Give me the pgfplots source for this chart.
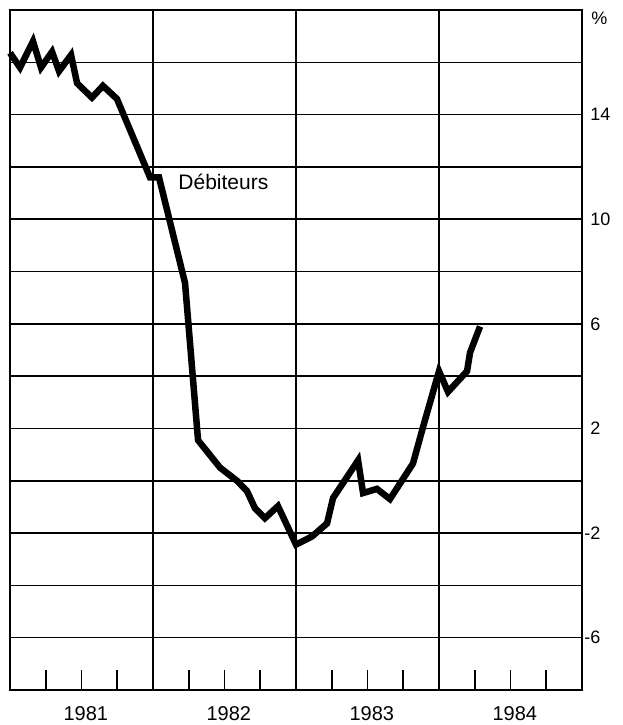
\documentclass[border=0pt]{standalone}
\usepackage{fontspec}
\setmainfont{Liberation Sans}
\usepackage{pgfplots}
\pgfplotsset{compat=1.18}
\begin{document}
\begin{tikzpicture}
\begin{axis}[
  width=286pt, height=340pt, scale only axis,
  xmin=1981, xmax=1985, ymin=-8, ymax=18,
  axis line style={line width=1.4pt},
  xtick={1982,1983,1984}, xticklabels={},
  minor xtick={1981.25,1981.5,1981.75,1982.25,1982.5,1982.75,1983.25,1983.5,1983.75,1984.25,1984.5,1984.75},
  xtick pos=left,
  ytick={-6,-4,...,16},
  yticklabels={\llap{-}6,,\llap{-}2,,2,,6,,10,,14,},
  ytick pos=right, yticklabel pos=right,
  tick align=inside,
  major tick length=0pt, minor tick length=10pt,
  minor tick style={line width=0.8pt, black},
  grid=major,
  major grid style={line width=0.75pt, black},
  yticklabel style={font=\fontsize{9}{10}\selectfont, anchor=west, inner sep=0pt, xshift=4pt},
  extra x ticks={1981.53,1982.53,1983.53,1984.53},
  extra x tick labels={1981,1982,1983,1984},
  extra x tick style={grid=none, major tick length=0pt,
    xticklabel style={font=\fontsize{10}{11}\selectfont, anchor=north, inner sep=0pt, yshift=-8.2pt}},
  clip=false,
]
\addplot[black, line width=3.25pt] coordinates {
(1981.000,16.36)
(1981.070,15.8)
(1981.161,16.8)
(1981.217,15.8)
(1981.294,16.4)
(1981.343,15.66)
(1981.427,16.28)
(1981.469,15.2)
(1981.573,14.65)
(1981.650,15.1)
(1981.748,14.6)
(1981.979,11.6)
(1982.042,11.6)
(1982.224,7.56)
(1982.315,1.55)
(1982.469,0.5)
(1982.587,0.0)
(1982.657,-0.39)
(1982.713,-1.05)
(1982.783,-1.43)
(1982.874,-0.97)
(1983.000,-2.44)
(1983.112,-2.13)
(1983.217,-1.63)
(1983.259,-0.66)
(1983.434,0.78)
(1983.469,-0.47)
(1983.566,-0.31)
(1983.657,-0.70)
(1983.818,0.66)
(1983.888,2.05)
(1984.000,4.19)
(1984.063,3.4)
(1984.196,4.19)
(1984.217,4.9)
(1984.287,5.9)
};
\node[anchor=west, inner sep=0pt, font=\fontsize{10.5}{11}\selectfont] at (axis cs:1982.175,11.43) {Débiteurs};
\node[anchor=north west, inner sep=0pt, font=\fontsize{9}{10}\selectfont] at (axis cs:1985,18) [xshift=4.5pt, yshift=-1pt] {\%};
\end{axis}
\pgfresetboundingbox
\path ([xshift=-5pt,yshift=-17.5pt]current axis.south west) rectangle ([xshift=20pt,yshift=5pt]current axis.north east);
\end{tikzpicture}
\end{document}
